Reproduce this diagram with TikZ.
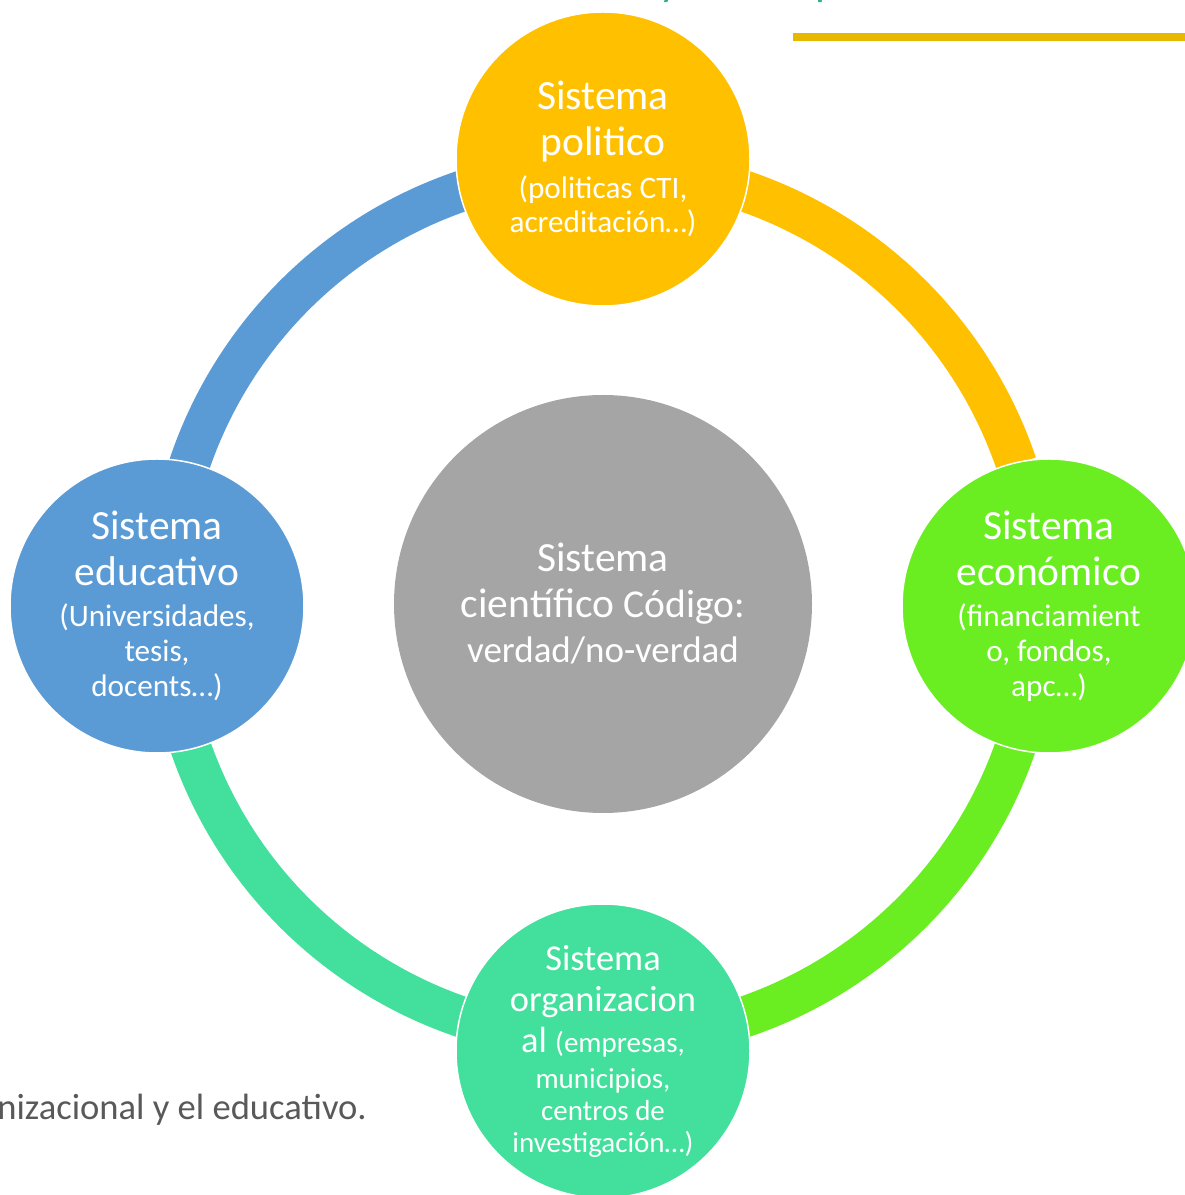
\documentclass[tikz,border=0pt]{standalone}
\usepackage{fontspec}
\setmainfont{Carlito}
\definecolor{cyel}{HTML}{FFC000}
\definecolor{cblue}{HTML}{5B9BD5}
\definecolor{cgreen}{HTML}{6AEE22}
\definecolor{cteal}{HTML}{42E09C}
\definecolor{cgray}{HTML}{A5A5A5}
\definecolor{cgold}{HTML}{E6B800}
\definecolor{ctitle}{HTML}{2EAE8E}
\definecolor{ctext}{HTML}{595959}
\newcommand{\smA}{\fontsize{31.2}{34}\selectfont}
\newcommand{\smB}{\fontsize{29}{32}\selectfont}
\begin{document}
\begin{tikzpicture}[x=1pt,y=1pt,
  sat/.style={circle, draw=white, line width=1.5pt, minimum size=294pt, inner sep=0pt, text=white, align=center},
  ringseg/.style={line width=41pt},
  bigA/.style={font=\fontsize{41.5}{46}\selectfont},
  bigB/.style={font=\fontsize{36.4}{41}\selectfont},
  frag/.style={anchor=base west, inner sep=0pt, text=ctitle, font=\fontsize{44}{52}\selectfont}]
\useasboundingbox (0,0) rectangle (1185,1195);
% title fragments (clipped at top)
\node[frag] (ty) at (659,1199) {y};
\node[frag] (tp) at (815,1199) {p};
\fill[cgold] (793,1154) rectangle (1185,1162);
\coordinate (c) at (603,591);
% ring segments
\draw[ringseg, cblue]  ([shift={(180:436.5)}]c) arc[start angle=180, end angle=108.7, radius=436.5];
\draw[ringseg, cyel]   ([shift={(90:436.5)}]c) arc[start angle=90, end angle=18.7, radius=436.5];
\draw[ringseg, cgreen] ([shift={(0:436.5)}]c) arc[start angle=0, end angle=-71.3, radius=436.5];
\draw[ringseg, cteal]  ([shift={(-90:436.5)}]c) arc[start angle=-90, end angle=-161.3, radius=436.5];
% center
\node[circle, fill=cgray, minimum size=418pt, inner sep=0pt, text=white, align=center, bigA] (sci) at (c)
  {Sistema\\científico {\fontsize{39.5}{44}\selectfont Código:}\\[-1pt]{\fontsize{37}{44}\selectfont verdad/no-verdad}};
% satellites
\node[sat, fill=cyel, bigA] (pol) at (603,1036)
  {Sistema\\politico\\[-3pt]{\smA (politicas CTI,}\\[-12pt]{\smA acreditación…)}};
\node[sat, fill=cblue, bigA] (edu) at (157,589)
  {Sistema\\educativo\\[-5pt]{\smA (Universidades,}\\[-11pt]{\smA tesis,}\\[-11pt]{\smA docents…)}};
\node[sat, fill=cgreen, bigA] (eco) at (1049,589)
  {Sistema\\económico\\[-5pt]{\smA (financiamient}\\[-11pt]{\smA o, fondos,}\\[-11pt]{\smA apc…)}};
\node[sat, fill=cteal, bigB] (org) at (603,144)
  {Sistema\\organizacion\\al {\smB (empresas,}\\[-5pt]{\smB municipios,}\\[-9pt]{\smB centros de}\\[-9pt]{\smB investigación…)}};
% bottom-left text
\node[anchor=base east, inner sep=0pt, text=ctext, font=\fontsize{36.6}{42}\selectfont] (btxt) at (367,75) {nizacional y el educativo.};
\end{tikzpicture}
\end{document}
